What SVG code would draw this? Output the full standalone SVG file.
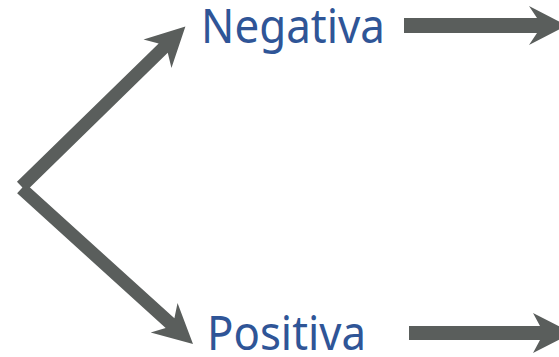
<svg xmlns="http://www.w3.org/2000/svg" width="559" height="357" viewBox="0 0 559 357">
<style>
.arrow{fill:#5a5e5c;stroke:none}
.label{font-family:"Noto Sans","Open Sans","Liberation Sans",sans-serif;font-size:47px;fill:#2f5597}
</style>
<rect width="559" height="357" fill="#ffffff"/>
<g id="connectors">
<g transform="translate(21.5,186.5) rotate(-44.3)">
<path class="arrow" d="M0,-6.5 L198,-6.5 L190,-20 L229,0 L190,20 L198,6.5 L0,6.5 Z"/>
</g>
<g transform="translate(21.5,188.5) rotate(42.2)">
<path class="arrow" d="M0,-6.5 L200.5,-6.5 L192.5,-20 L231.5,0 L192.5,20 L200.5,6.5 L0,6.5 Z"/>
</g>
<g transform="translate(404,25.5)">
<path class="arrow" d="M0,-7.5 L133,-7.5 L125,-19.5 L163,0 L125,19.5 L133,7.5 L0,7.5 Z"/>
</g>
<g transform="translate(409,333)">
<path class="arrow" d="M0,-7 L131,-7 L124,-20 L163,0 L124,20 L131,7 L0,7 Z"/>
</g>
</g>
<g id="node-negativa">
<text class="label" x="201" y="43" textLength="184" lengthAdjust="spacingAndGlyphs">Negativa</text>
</g>
<g id="node-positiva">
<text class="label" x="207" y="350" textLength="159" lengthAdjust="spacingAndGlyphs">Positiva</text>
</g>
</svg>
